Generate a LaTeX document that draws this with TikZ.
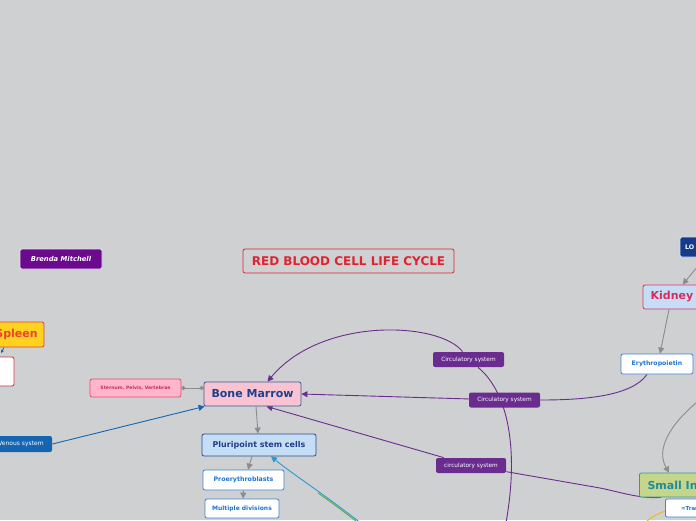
\documentclass[tikz,border=0pt]{standalone}
\usepackage{fontspec}
\setmainfont{DejaVu Sans}
\usetikzlibrary{arrows.meta,backgrounds}
\definecolor{bg}{HTML}{CFD0D2}
\definecolor{purp}{HTML}{6A2C8F}
\definecolor{graya}{HTML}{8C8C8C}
\definecolor{bluea}{HTML}{3A85D8}
\definecolor{bluet}{HTML}{1E74D6}
\definecolor{navy}{HTML}{1E3F8A}
\definecolor{venblue}{HTML}{1466B2}
\definecolor{cyanb}{HTML}{2A9AD6}
\definecolor{greenl}{HTML}{5AAA3A}
\definecolor{brendaf}{HTML}{6C0A8E}
\definecolor{brendad}{HTML}{E8DDF0}
\definecolor{titlec}{HTML}{E0232F}
\definecolor{spleenf}{HTML}{FFD21F}
\definecolor{spleend}{HTML}{E0404A}
\definecolor{spleent}{HTML}{E8452E}
\definecolor{spwd}{HTML}{D0303C}
\definecolor{sternf}{HTML}{FFB6CB}
\definecolor{sternd}{HTML}{D9506F}
\definecolor{sternt}{HTML}{C0305A}
\definecolor{bonef}{HTML}{F8C3D3}
\definecolor{boned}{HTML}{3B5998}
\definecolor{lbluef}{HTML}{C6DEF5}
\definecolor{plurid}{HTML}{2B4C8C}
\definecolor{kidd}{HTML}{D6336C}
\definecolor{kidt}{HTML}{D92B5E}
\definecolor{lof}{HTML}{153C8C}
\definecolor{lod}{HTML}{D8DDF0}
\definecolor{sif}{HTML}{C4D68C}
\definecolor{sid}{HTML}{3A9A8A}
\definecolor{sit}{HTML}{1E8C9A}
\definecolor{yell}{HTML}{F2B705}
\tikzset{
  box/.style={draw, rounded corners=2pt, line width=0.8pt, inner sep=0pt, align=center},
  whitebox/.style={box, fill=white, draw=bluea, text=bluet, font=\bfseries\fontsize{6.3}{7}\selectfont},
  clabel/.style={box, draw=none, fill=purp, text=white, font=\fontsize{5.8}{7}\selectfont, minimum height=15pt},
  parrow/.style={draw=purp, line width=0.9pt, -{Triangle[length=6pt,width=6pt]}},
  garrow/.style={draw=graya, line width=0.9pt, -{Triangle[length=6pt,width=6pt]}},
}
\begin{document}
\begin{tikzpicture}[x=1pt,y=-1pt]
\useasboundingbox (0,0) rectangle (696,520);
% nodes
\node[box, fill=brendaf, draw=brendad, text=white, font=\bfseries\itshape\fontsize{6.8}{8}\selectfont, minimum width=82pt, minimum height=20pt] (brenda) at (61,259) {Brenda Mitchell};
\node[box, draw=titlec, text=titlec, font=\bfseries\fontsize{12}{14}\selectfont, minimum width=211pt, minimum height=24pt] (title) at (348.5,261) {RED BLOOD CELL LIFE CYCLE};
\node[box, fill=spleenf, draw=spleend, text=spleent, font=\bfseries\fontsize{11}{13}\selectfont, minimum width=55pt, minimum height=25pt] (spleen) at (16.5,334.5) {Spleen};
\node[box, fill=white, draw=spwd, minimum width=58pt, minimum height=29pt] (spw) at (-15,371.5) {};
\node[box, fill=sternf, draw=sternd, text=sternt, font=\bfseries\fontsize{4.6}{6}\selectfont, minimum width=91pt, minimum height=18pt] (sternum) at (135.5,388) {Sternum, Pelvis, Vertebrae};
\node[box, fill=bonef, draw=boned, text=navy, font=\bfseries\fontsize{11}{13}\selectfont, minimum width=97pt, minimum height=24pt] (bone) at (252.5,394) {Bone Marrow};
\node[box, fill=venblue, draw=none, text=white, font=\fontsize{6}{7}\selectfont, minimum width=62pt, minimum height=16pt] (venous) at (21,444) {Venous system};
\node[box, fill=lbluef, draw=plurid, text=navy, font=\bfseries\fontsize{8}{10}\selectfont, minimum width=114pt, minimum height=22pt] (pluri) at (259,445) {Pluripoint stem cells};
\node[whitebox, minimum width=81pt, minimum height=20pt] (proery) at (243.5,480) {Proerythroblasts};
\node[whitebox, font=\bfseries\fontsize{6}{7}\selectfont, minimum width=74pt, minimum height=19pt] (multi) at (242,508.5) {Multiple divisions};
\node[box, fill=lbluef, draw=kidd, text=kidt, font=\bfseries\fontsize{11}{13}\selectfont, minimum width=58pt, minimum height=24pt] (kidney) at (672,297) {Kidney};
\node[box, fill=lof, draw=lod, text=white, font=\bfseries\fontsize{6.3}{7}\selectfont, minimum width=70pt, minimum height=20pt, text width=60pt, align=left] (lo) at (715,247) {LO};
\node[whitebox, font=\bfseries\fontsize{6.2}{7}\selectfont, minimum width=72pt, minimum height=20pt] (erythro) at (657,364) {Erythropoietin};
\node[box, fill=sif, draw=sid, text=sit, font=\bfseries\fontsize{11}{13}\selectfont, minimum width=110pt, minimum height=24pt, anchor=west] (smallint) at (639,485) {Small Intestine};
\node[whitebox, font=\bfseries\fontsize{5.5}{7}\selectfont, minimum width=70pt, minimum height=18pt, anchor=west] (transf) at (665,508) {=Transferrin};
\node[clabel, minimum width=71pt] (lab1) at (468.5,359.5) {Circulatory system};
\node[clabel, minimum width=71pt] (lab2) at (504.5,400) {Circulatory system};
\node[clabel, minimum width=70pt] (lab3) at (471,465.5) {circulatory system};
\coordinate (c1start) at (505,528);
\coordinate (gstart) at (702,398);
\coordinate (bstart) at (372,532);
\coordinate (ystart) at (646,522);
\coordinate (lofoot) at (698,266);
\coordinate (spfoot) at (4,347.5);
\coordinate (sptip) at (1,353);
\begin{scope}[on background layer]
\fill[bg] (0,0) rectangle (696,520);
% sternum link
\draw[draw=graya, line width=1pt, {Circle[length=4pt]}-{Circle[length=4pt]}] (sternum.east) -- (bone.west |- sternum.east);
% venous
\draw[draw=venblue, line width=0.9pt, -{Triangle[length=6pt,width=6pt]}] (venous.east) -- ([xshift=1pt]bone.south west);
% spleen tiny arrow
\draw[draw=venblue, line width=0.8pt, -{Triangle[length=3pt,width=3pt]}] (spfoot) -- (sptip);
% gray arrows
\draw[garrow] ([xshift=3.5pt]bone.south) -- ([xshift=-1pt]pluri.north);
\draw[garrow] ([xshift=-7pt]pluri.south) -- ([xshift=4.5pt]proery.north);
\draw[garrow] (proery.south) -- ([xshift=1pt]multi.north);
\draw[garrow] ([xshift=-3pt]kidney.south) -- ([xshift=3pt]erythro.north);
\draw[garrow] (lofoot) -- ([xshift=40pt]kidney.north west);
\draw[garrow] (gstart) .. controls (668,425) and (656,450) .. ([xshift=30pt]smallint.north west);
% purple connectors
\draw[parrow] (c1start) .. controls (520,450) and (508,392) .. (lab1) .. controls (440,322) and (322,316) .. ([xshift=15pt]bone.north);
\draw[parrow] ([xshift=-10pt]erythro.south) .. controls (632,396) and (585,400) .. (lab2) -- (bone.east);
\draw[parrow] ([xshift=22pt]smallint.south west) .. controls (640,499) and (620,492) .. (600,488) -- (lab3) -- ([xshift=14pt]bone.south);
% blue / green
\draw[draw=greenl, line width=0.9pt] ([xshift=-3pt,yshift=1pt]bstart) .. controls (335,505) .. (318,493);
\draw[draw=cyanb, line width=0.9pt, -{Triangle[length=6pt,width=6pt]}] (bstart) .. controls (330,498) and (295,476) .. ([xshift=12pt]pluri.south);
% yellow
\draw[draw=yell, line width=0.9pt] (ystart) .. controls (652,516) and (658,514) .. ([yshift=-3pt]transf.west);
\end{scope}
\end{tikzpicture}
\end{document}
